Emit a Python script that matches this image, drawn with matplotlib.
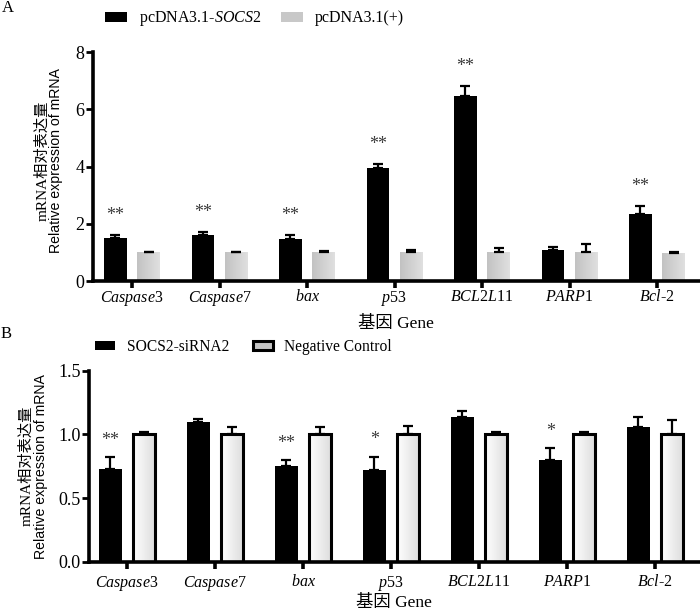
import matplotlib.pyplot as plt
import numpy as np
from matplotlib.patches import Patch
from matplotlib.colors import LinearSegmentedColormap

plt.rcParams['font.family'] = ['Liberation Serif', 'Noto Sans CJK SC']
plt.rcParams['mathtext.fontset'] = 'custom'
plt.rcParams['mathtext.it'] = 'Liberation Serif:italic'
plt.rcParams['mathtext.rm'] = 'Liberation Serif'

genes = [r'$\mathit{Caspase3}$', r'$\mathit{Caspase7}$', r'$\mathit{bax}$', r'$\mathit{p}$53',
         r'$\mathit{BCL2L}$11', r'$\mathit{PARP}$1', r'$\mathit{Bcl}$-2']

# panel A: overexpression
a_socs = [1.50, 1.60, 1.46, 3.96, 6.45, 1.08, 2.35]
a_socs_err = [0.11, 0.10, 0.14, 0.14, 0.37, 0.12, 0.28]
a_ctrl = [1.00, 1.00, 1.00, 1.00, 1.01, 1.02, 0.99]
a_ctrl_err = [0.03, 0.03, 0.06, 0.07, 0.13, 0.26, 0.02]
a_sig = ['**', '**', '**', '**', '**', '', '**']

# panel B: knockdown
b_si = [0.73, 1.10, 0.75, 0.72, 1.14, 0.80, 1.06]
b_si_err = [0.09, 0.02, 0.05, 0.105, 0.04, 0.095, 0.08]
b_nc = [1.00, 1.00, 1.00, 1.00, 1.00, 1.00, 1.00]
b_nc_err = [0.02, 0.055, 0.055, 0.066, 0.02, 0.02, 0.115]
b_sig = ['**', '', '**', '*', '', '*', '']

W, H = 700, 611
fig = plt.figure(figsize=(7, 6.11), dpi=100)


def gradient_fill(ax, bars, c0, c1):
    grad = np.linspace(0, 1, 64).reshape(1, -1)
    cm = LinearSegmentedColormap.from_list('g', [c0, c1])
    for b in bars:
        x0, y0 = b.get_x(), b.get_y()
        im = ax.imshow(grad, extent=[x0, x0 + b.get_width(), y0, y0 + b.get_height()],
                       aspect='auto', cmap=cm, zorder=b.get_zorder() + 0.1)
        im.set_clip_path(b)


def style_axes(ax, ylim, yticks, ylabels, xlim, xpad, lab_x, lab_y):
    ax.spines['top'].set_visible(False)
    ax.spines['right'].set_visible(False)
    ax.spines['left'].set_linewidth(2.6)
    ax.spines['bottom'].set_linewidth(2.6)
    ax.set_ylim(*ylim)
    ax.set_xlim(*xlim)
    ax.set_yticks(yticks)
    ax.set_yticklabels(ylabels, fontsize=13)
    ax.set_xticks(range(len(genes)))
    ax.set_xticklabels(genes, fontsize=11.5)
    ax.tick_params(axis='y', length=5, width=2, pad=1)
    ax.tick_params(axis='x', length=5, width=2.6, pad=xpad)
    ax.text(lab_x[1], lab_y, 'Relative expression of mRNA', transform=ax.transAxes,
            rotation=90, ha='center', va='center', fontsize=10.2,
            family=['Liberation Sans', 'Noto Sans CJK SC'])
    ax.text(lab_x[0], lab_y, 'mRNA相对表达量', transform=ax.transAxes,
            rotation=90, ha='center', va='center', fontsize=11,
            family=['Liberation Serif', 'Noto Sans CJK SC'])


def stars(ax, x, tops, marks, off):
    for xi, t, m in zip(x, tops, marks):
        if m:
            ax.annotate(m, (xi, t), xytext=(0, off), textcoords='offset points',
                        ha='center', va='center', fontsize=13, color='#3a3a3a')


x = np.arange(len(genes))
bw = 0.255
off = 0.19
ekw = dict(fmt='none', ecolor='black', elinewidth=1.6, capsize=3.6, capthick=1.6, zorder=3)

# ---- A ----
axA = fig.add_axes([93 / W, 1 - 281 / H, 606 / W, 229 / H])
b1 = axA.bar(x - off, a_socs, bw, color='black', zorder=2, label=r'pcDNA3.1-$\mathit{SOCS}$2')
b2 = axA.bar(x + off, a_ctrl, bw, color='#cccccc', zorder=2, label='pcDNA3.1(+)')
gradient_fill(axA, b2, '#c2c2c2', '#e0e0e0')
axA.errorbar(x - off, a_socs, yerr=[np.zeros(7), a_socs_err], **ekw)
axA.errorbar(x + off, a_ctrl, yerr=[np.zeros(7), a_ctrl_err], **ekw)
stars(axA, x - off, np.array(a_socs) + np.array(a_socs_err), a_sig, 14)
style_axes(axA, (0, 8), [0, 2, 4, 6, 8], ['0', '2', '4', '6', '8'], (-0.446, 6.48),
           0.5, (-0.084, -0.061), 0.524)
axA.set_xlabel('基因 Gene', fontsize=12.5, labelpad=6)
fig.legend(handles=[b1, Patch(facecolor='#c8c8c8', label='pcDNA3.1(+)')],
           loc='center left', bbox_to_anchor=(105 / W, 1 - 19 / H),
           ncol=2, frameon=False, fontsize=11.5, handlelength=1.35, handleheight=0.55,
           handletextpad=0.75, columnspacing=1.25, borderpad=0, borderaxespad=0)
fig.text(8 / W, 1 - 8 / H, 'A', ha='center', va='center', fontsize=12)

# ---- B ----
axB = fig.add_axes([89 / W, 1 - 561.7 / H, 610 / W, 191 / H])
c1 = axB.bar(x - off, b_si, bw, color='black', zorder=2, label='SOCS2-siRNA2')
c2 = axB.bar(x + off, b_nc, bw, facecolor='white', edgecolor='black', linewidth=2.2,
             zorder=2, label='Negative Control')
gradient_fill(axB, c2, '#ffffff', '#dcdcdc')
for b in c2:
    b.set_zorder(2.5)
    b.set_facecolor('none')
axB.errorbar(x - off, b_si, yerr=[np.zeros(7), b_si_err], **ekw)
axB.errorbar(x + off, b_nc, yerr=[np.zeros(7), b_nc_err], **ekw)
stars(axB, x - off, np.array(b_si) + np.array(b_si_err), b_sig, 12)
style_axes(axB, (0, 1.5), [0, 0.5, 1.0, 1.5], ['0.0', '0.5', '1.0', '1.5'], (-0.432, 6.5),
           4, (-0.103, -0.079), 0.5)
axB.set_xlabel('基因 Gene', fontsize=12.5, labelpad=1)
fig.legend(handles=[c1, Patch(facecolor='#c4c4c4', edgecolor='black', linewidth=2.2,
                              label='Negative Control')],
           loc='center left', bbox_to_anchor=(95 / W, 1 - 347 / H),
           ncol=2, frameon=False, fontsize=11.2, handlelength=1.3, handleheight=0.5,
           handletextpad=0.75, columnspacing=1.5, borderpad=0, borderaxespad=0)
fig.text(6 / W, 1 - 334 / H, 'B', ha='center', va='center', fontsize=12)

fig.savefig('out.png', dpi=100)
